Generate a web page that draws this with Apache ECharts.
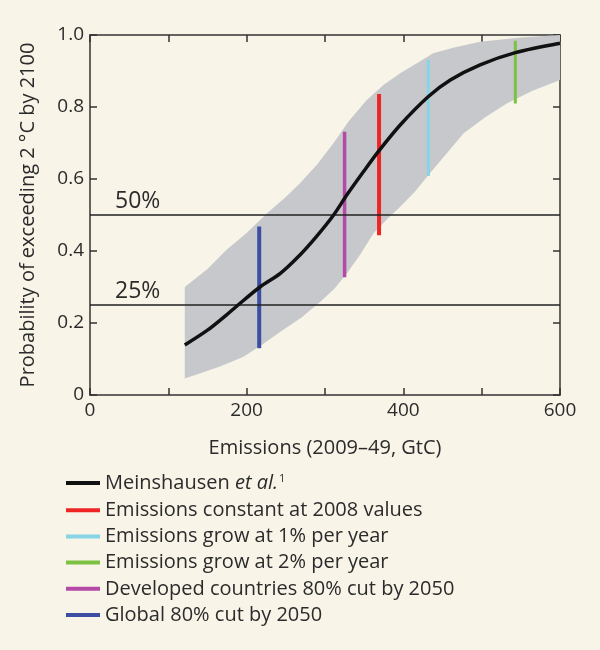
<!DOCTYPE html>
<html>
<head>
<meta charset="utf-8">
<script src="https://cdn.jsdelivr.net/npm/echarts@6/dist/echarts.min.js"></script>
<style>
  html, body { margin: 0; padding: 0; background: #f8f4e8; }
  #main { width: 600px; height: 650px; }
</style>
</head>
<body>
<div id="main"></div>
<script>
// median curve (Meinshausen et al.)
var curveX = [121, 150, 174, 189, 217, 243, 268, 289, 311, 328, 349, 368, 396, 432, 460, 498, 543, 600];
var curveY = [0.139, 0.18, 0.222, 0.25, 0.30, 0.338, 0.389, 0.44, 0.50, 0.556, 0.62, 0.676, 0.75, 0.829, 0.875, 0.917, 0.951, 0.977];

// uncertainty band
var upperX = [121, 150, 174, 200, 226, 250, 268, 290, 311, 330, 353, 375, 396, 420, 438, 465, 498, 550, 600];
var upperY = [0.30, 0.35, 0.403, 0.45, 0.505, 0.55, 0.588, 0.64, 0.70, 0.76, 0.819, 0.862, 0.894, 0.925, 0.949, 0.965, 0.981, 0.993, 1.0];
var lowerX = [121, 140, 166, 196, 220, 243, 270, 294, 312, 328, 345, 362, 380, 396, 415, 432, 455, 477, 505, 532, 565, 600];
var lowerY = [0.046, 0.06, 0.079, 0.106, 0.14, 0.176, 0.215, 0.259, 0.295, 0.338, 0.39, 0.449, 0.49, 0.523, 0.565, 0.611, 0.67, 0.727, 0.772, 0.81, 0.845, 0.875];

// scenarios: emissions and probability range
var scenNames = ['Emissions constant at 2008 values', 'Emissions grow at 1% per year',
  'Emissions grow at 2% per year', 'Developed countries 80% cut by 2050', 'Global 80% cut by 2050'];
var scenX = [369, 432, 543, 325, 216];
var scenLo = [0.444, 0.608, 0.810, 0.327, 0.130];
var scenHi = [0.836, 0.931, 0.984, 0.731, 0.468];
var scenColors = ['#ee2524', '#86d4e6', '#7dc142', '#b34aa6', '#3b4ea3'];
var scenWidths = [4, 3, 3, 3.5, 4];

var thresholds = [0.5, 0.25];
var thresholdLabels = ['50%', '25%'];

var font = 'Open Sans';
var txt = '#2b2b2b';

var chart = echarts.init(document.getElementById('main'));

var series = [];

series.push({
  type: 'custom',
  name: 'band',
  silent: true,
  z: 1,
  data: [0],
  renderItem: function (params, api) {
    var pts = [];
    for (var i = 0; i < upperX.length; i++) pts.push(api.coord([upperX[i], upperY[i]]));
    for (var j = lowerX.length - 1; j >= 0; j--) pts.push(api.coord([lowerX[j], lowerY[j]]));
    return { type: 'polygon', shape: { points: pts }, style: { fill: '#c6c8cb' } };
  }
});

var curveData = curveX.map(function (x, i) { return [x, curveY[i]]; });
series.push({
  type: 'line',
  name: 'Meinshausen',
  data: curveData,
  smooth: 0.3,
  showSymbol: false,
  z: 5,
  lineStyle: { color: '#111', width: 3.5 },
  itemStyle: { color: '#111' },
  markLine: {
    silent: true,
    symbol: 'none',
    lineStyle: { color: '#222', width: 1.5, type: 'solid' },
    data: thresholds.map(function (t, i) {
      return {
        yAxis: t,
        label: {
          show: true, position: 'insideStartTop', formatter: thresholdLabels[i],
          fontFamily: font, fontSize: 23, color: txt, distance: [25, 2]
        }
      };
    })
  }
});

scenNames.forEach(function (n, i) {
  series.push({
    type: 'line',
    name: n,
    data: [[scenX[i], scenLo[i]], [scenX[i], scenHi[i]]],
    showSymbol: false,
    z: 4,
    lineStyle: { color: scenColors[i], width: scenWidths[i], cap: 'butt' },
    itemStyle: { color: scenColors[i] }
  });
});

var legendNames = ['Meinshausen'].concat(scenNames);

var axisLine = { show: true, onZero: false, lineStyle: { color: '#333', width: 1.5 } };
var axisTick = { show: true, inside: true, length: 7, lineStyle: { color: '#333', width: 1.5 } };

chart.setOption({
  backgroundColor: '#f8f4e8',
  animation: false,
  grid: { left: 90, right: 40, top: 35, bottom: 255 },
  legend: {
    orient: 'vertical',
    left: 61,
    top: 468,
    itemWidth: 34,
    itemHeight: 4,
    itemGap: 6.2,
    icon: 'rect',
    data: legendNames,
    formatter: function (name) {
      if (name === 'Meinshausen') return 'Meinshausen {i|et al.}{s|1}';
      return name;
    },
    textStyle: {
      fontFamily: font, fontSize: 20, color: txt, lineHeight: 20, padding: [0, 0, 0, 0],
      rich: {
        i: { fontFamily: font, fontSize: 20, fontStyle: 'italic', color: txt, lineHeight: 20 },
        s: { fontFamily: font, fontSize: 11, color: txt, verticalAlign: 'top', lineHeight: 20, padding: [0, 0, 10, 1] }
      }
    }
  },
  xAxis: [{
    type: 'value', min: 0, max: 600, interval: 100, position: 'bottom',
    name: 'Emissions (2009–49, GtC)', nameLocation: 'middle', nameGap: 43,
    nameTextStyle: { fontFamily: font, fontSize: 20, color: txt },
    axisLine: axisLine, axisTick: axisTick, splitLine: { show: false },
    axisLabel: {
      fontFamily: font, fontSize: 19, color: txt, margin: 6,
      formatter: function (v) { return v % 200 === 0 ? String(v) : ''; }
    }
  }, {
    type: 'value', min: 0, max: 600, interval: 100, position: 'top',
    axisLine: axisLine, axisTick: axisTick, splitLine: { show: false }, axisLabel: { show: false }
  }],
  yAxis: [{
    type: 'value', min: 0, max: 1, interval: 0.2, position: 'left',
    name: 'Probability of exceeding 2 °C by 2100', nameLocation: 'middle', nameGap: 52,
    nameTextStyle: { fontFamily: font, fontSize: 20, color: txt },
    axisLine: axisLine, axisTick: axisTick, splitLine: { show: false },
    axisLabel: {
      fontFamily: font, fontSize: 19, color: txt, margin: 6,
      formatter: function (v) { return v === 0 ? '0' : v.toFixed(1); }
    }
  }, {
    type: 'value', min: 0, max: 1, interval: 0.2, position: 'right',
    axisLine: axisLine, axisTick: axisTick, splitLine: { show: false }, axisLabel: { show: false }
  }],
  series: series
});
</script>
</body>
</html>
